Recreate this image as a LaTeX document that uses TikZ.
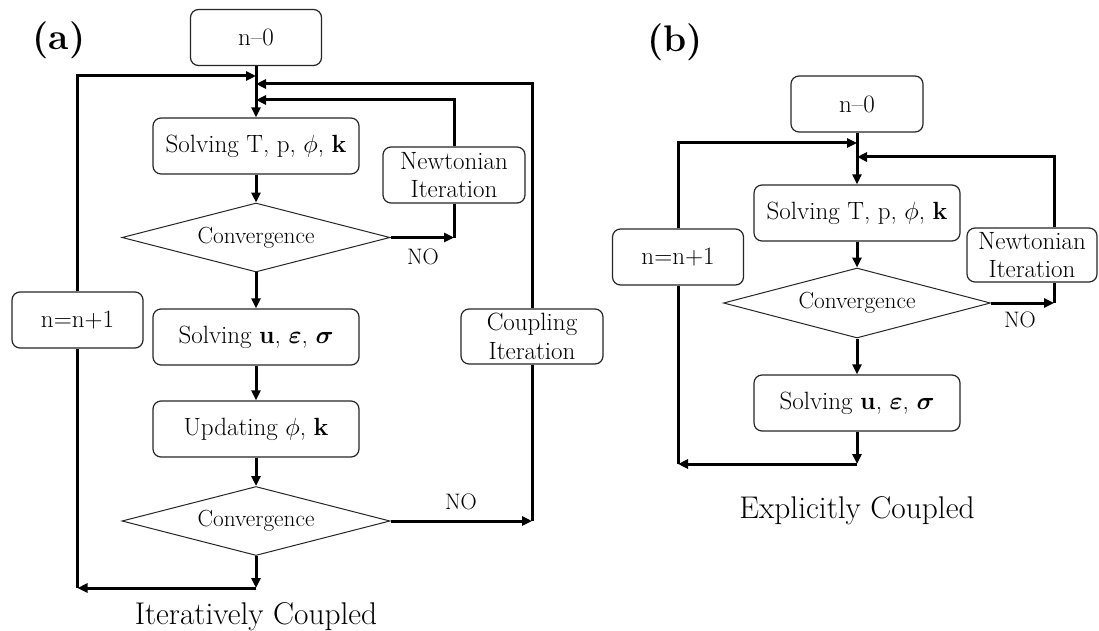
\documentclass[tikz,border=0pt]{standalone}
\usepackage{amsmath}
\usepackage{amssymb}
\usepackage{tikz}
\usetikzlibrary{arrows.meta}
\usetikzlibrary{shapes.geometric}
\usetikzlibrary{positioning}

\newcommand{\boxfont}{\fontsize{25}{28.5}\selectfont}
\newcommand{\diafont}{\fontsize{23.3}{26}\selectfont}

\begin{document}
\begin{tikzpicture}[x=1pt,y=-1pt]
\tikzstyle{box}=[rectangle,rounded corners=8pt,align=center,draw=black!85,line width=1.2pt,fill=white,inner sep=1pt,minimum height=56pt,font=\boxfont]
\tikzstyle{decision}=[diamond,aspect=3.9,draw=black!85,line width=1pt,fill=white,inner sep=0pt,minimum width=268pt,minimum height=69pt,font=\diafont]
\tikzstyle{flow}=[line width=3pt,-{Triangle[length=10pt,width=9pt]}]
\tikzstyle{link}=[line width=3pt]
\tikzstyle{nolabel}=[font=\fontsize{22.4}{26}\selectfont]
\tikzstyle{caption}=[font=\fontsize{31.4}{36}\selectfont]
\tikzstyle{tag}=[font=\bfseries\fontsize{37}{44}\selectfont]
\useasboundingbox (0,0) rectangle (1099,631);

% (a) iteratively coupled
\node[tag] (taga) at (59,40) {(a)};
\node[box,minimum width=131pt] (n0a) at (256,37.5) {n--0};
\node[box,minimum width=206pt] (tpa) at (256,146) {Solving T, p, $\phi$, $\mathbf{k}$};
\node[box,minimum width=142pt] (nta) at (454,175) {Newtonian\\Iteration};
\node[decision] (cva) at (256,237.5) {Convergence};
\node[box,minimum width=131pt] (nna) at (77.5,320) {n=n+1};
\node[box,minimum width=206pt] (uva) at (256,337) {Solving $\mathbf{u}$, $\boldsymbol{\varepsilon}$, $\boldsymbol{\sigma}$};
\node[box,minimum width=142pt,minimum height=55pt] (cpa) at (532,336.5) {Coupling\\Iteration};
\node[box,minimum width=206pt] (upa) at (256,429) {Updating $\phi$, $\mathbf{k}$};
\node[decision] (cwa) at (256,521) {Convergence};
\node[nolabel] (noa1) at (423,257) {NO};
\node[nolabel] (noa2) at (461,502) {NO};
\node[caption] (capa) at (256,617) {Iteratively Coupled};

\coordinate (ja1) at (256,76);
\coordinate (ja2) at (256,84);
\coordinate (ja3) at (256,100);
\coordinate (ba) at (256,588);

\draw[flow] (n0a) -- (tpa);
\draw[flow] (nna.north) |- (ja1);
\draw[flow] (cpa.north) |- (ja2);
\draw[flow] (nta.north) |- (ja3);
\draw[flow] (tpa) -- (cva);
\draw[flow] (cva.east) -- (nta.south |- cva.east);
\draw[link] (nta.south) -- (nta.south |- cva.east);
\draw[flow] (cva) -- (uva);
\draw[flow] (uva) -- (upa);
\draw[flow] (upa) -- (cwa);
\draw[flow] (cwa.east) -- (cpa.south |- cwa.east);
\draw[link] (cpa.south) -- (cpa.south |- cwa.east);
\draw[flow] (cwa.south) -- (ba);
\draw[flow] (ba) -- (nna.south |- ba);
\draw[link] (nna.south) -- (nna.south |- ba);

% (b) explicitly coupled
\node[tag] (tagb) at (675,42) {(b)};
\node[box,minimum width=132pt] (n0b) at (857,104) {n--0};
\node[box,minimum width=206pt] (tpb) at (857,213) {Solving T, p, $\phi$, $\mathbf{k}$};
\node[box,minimum width=131pt] (nnb) at (678,257) {n=n+1};
\node[box,minimum width=130pt,minimum height=54pt] (ntb) at (1032,255) {Newtonian\\Iteration};
\node[decision,minimum width=267pt,minimum height=70pt] (cvb) at (857,303) {Convergence};
\node[box,minimum width=206pt] (uvb) at (857,403) {Solving $\mathbf{u}$, $\boldsymbol{\varepsilon}$, $\boldsymbol{\sigma}$};
\node[nolabel] (nob) at (1020,320) {NO};
\node[caption] (capb) at (857,511) {Explicitly Coupled};

\coordinate (jb1) at (857,143);
\coordinate (jb2) at (857,157);
\coordinate (rb) at (1054,303);
\coordinate (bb) at (857,464);

\draw[flow] (n0b) -- (tpb);
\draw[flow] (nnb.north) |- (jb1);
\draw[flow] (rb |- ntb.north) |- (jb2);
\draw[link] (rb |- ntb.south) -- (rb);
\draw[flow] (tpb) -- (cvb);
\draw[flow] (cvb.east) -- (rb);
\draw[flow] (cvb) -- (uvb);
\draw[flow] (uvb) -- (bb);
\draw[flow] (bb) -- (nnb.south |- bb);
\draw[link] (nnb.south) -- (nnb.south |- bb);
\end{tikzpicture}
\end{document}
